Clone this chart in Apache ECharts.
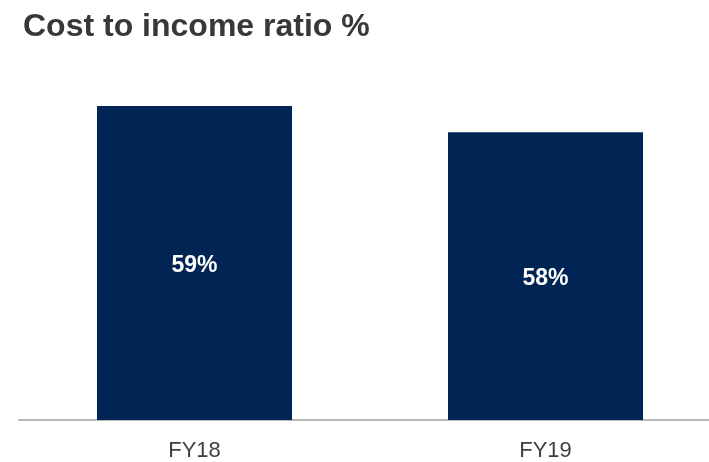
<!DOCTYPE html>
<html><head><meta charset="utf-8">
<script src="https://cdn.jsdelivr.net/npm/echarts@6/dist/echarts.min.js"></script>
<style>html,body{margin:0;padding:0;background:#fff;overflow:hidden;width:709px;height:462px}#c{width:721px;height:462px}</style>
</head><body><div id="c"></div>
<script>
var categories = ['FY18', 'FY19'];
var values = [59, 58];
var titleText = 'Cost to income ratio %';

var chart = echarts.init(document.getElementById('c'), null, {renderer: 'canvas'});
chart.setOption({
  animation: false,
  title: {
    text: titleText, left: 18, top: 6,
    textStyle: {fontFamily: 'Liberation Sans, Arial, sans-serif', fontWeight: 'bold', fontSize: 32, color: '#383838'}
  },
  grid: {left: 19, right: 0, top: 106, bottom: 39},
  xAxis: {
    type: 'category', data: categories,
    axisLine: {lineStyle: {color: '#b8b8b8', width: 2}},
    axisTick: {show: false},
    axisLabel: {fontFamily: 'Liberation Sans, Arial, sans-serif', fontSize: 22, color: '#404040', margin: 20}
  },
  yAxis: {type: 'value', min: 47, max: 59, show: false, splitLine: {show: false}},
  series: [{
    type: 'bar', data: values, barWidth: 195,
    itemStyle: {color: '#002554'},
    label: {show: true, position: 'inside', offset: [0, 3], formatter: '{c}%', color: '#fff', fontWeight: 'bold', fontSize: 23, fontFamily: 'Liberation Sans, Arial, sans-serif'}
  }]
});
</script></body></html>
